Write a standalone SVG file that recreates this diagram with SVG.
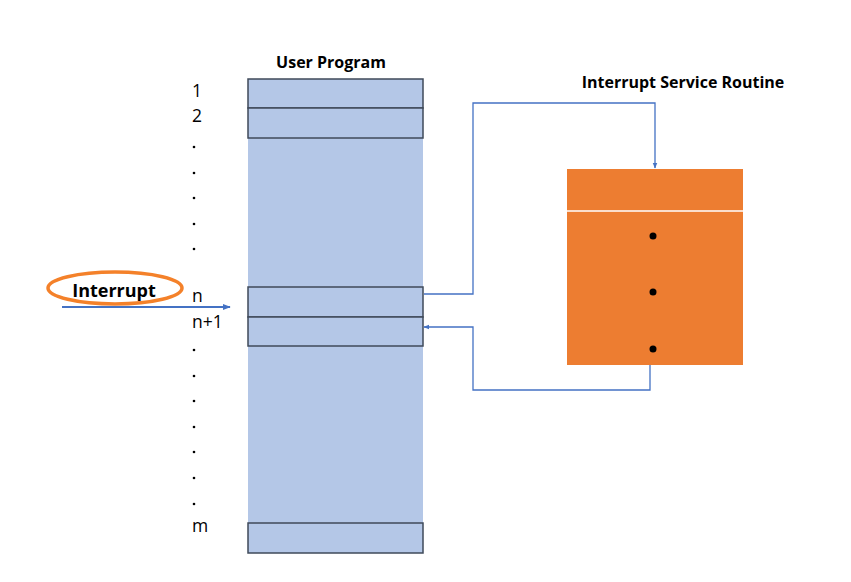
<svg xmlns="http://www.w3.org/2000/svg" width="851" height="582" viewBox="0 0 851 582">
<defs>
<style>
.t{font-family:"Open Sans","Liberation Sans",sans-serif;fill:#000}
.b{font-weight:bold;font-size:16px}
.n{font-size:17.5px}
.row{fill:#b4c7e7;stroke:#3f4a5a;stroke-width:1.5}
.c{fill:none;stroke:#4472c4;stroke-width:1.3}
.d{fill:#000}
</style>
<marker id="ah" viewBox="0 0 10 10" refX="9" refY="5" markerWidth="6" markerHeight="6" orient="auto" markerUnits="userSpaceOnUse">
<path d="M0,1 L10,5 L0,9 z" fill="#4472c4"/>
</marker>
<marker id="ah2" viewBox="0 0 10 10" refX="9" refY="5" markerWidth="8" markerHeight="8" orient="auto" markerUnits="userSpaceOnUse">
<path d="M0,1 L10,5 L0,9 z" fill="#4472c4"/>
</marker>
</defs>
<rect width="851" height="582" fill="#fff"/>
<g id="user-program">
<text class="t b" x="331" y="68" text-anchor="middle">User Program</text>
<rect x="248" y="79" width="175" height="474" fill="#b4c7e7"/>
<rect class="row" x="248" y="79" width="175" height="29"/>
<rect class="row" x="248" y="108" width="175" height="30"/>
<rect class="row" x="248" y="287" width="175" height="30"/>
<rect class="row" x="248" y="317" width="175" height="29"/>
<rect class="row" x="248" y="523" width="175" height="30"/>
</g>
<g id="labels">
<text class="t n" x="192" y="97">1</text>
<text class="t n" x="192" y="122">2</text>
<text class="t n" x="192" y="302">n</text>
<text class="t n" x="192" y="328">n+1</text>
<text class="t n" x="192" y="532">m</text>
<g class="d">
<circle cx="194" cy="147" r="1.3"/><circle cx="194" cy="173" r="1.3"/><circle cx="194" cy="198" r="1.3"/><circle cx="194" cy="224" r="1.3"/><circle cx="194" cy="249" r="1.3"/>
<circle cx="194" cy="350" r="1.3"/><circle cx="194" cy="376" r="1.3"/><circle cx="194" cy="401" r="1.3"/><circle cx="194" cy="427" r="1.3"/><circle cx="194" cy="452" r="1.3"/><circle cx="194" cy="478" r="1.3"/><circle cx="194" cy="504" r="1.3"/>
</g>
</g>
<g id="interrupt">
<ellipse cx="115" cy="288" rx="67" ry="16" fill="none" stroke="#f4812a" stroke-width="3.5"/>
<text class="t" x="114" y="297" text-anchor="middle" font-size="18" font-weight="bold">Interrupt</text>
</g>
<g id="isr">
<text class="t b" x="683" y="88" text-anchor="middle">Interrupt Service Routine</text>
<rect x="567" y="169" width="176" height="196" fill="#ed7d31"/>
<line x1="567" y1="211" x2="743" y2="211" stroke="#fff" stroke-width="1.5"/>
<circle cx="653" cy="236" r="3.5" fill="#000"/>
<circle cx="653" cy="292" r="3.5" fill="#000"/>
<circle cx="653" cy="349" r="3.5" fill="#000"/>
</g>
<g id="connectors">
<line x1="62" y1="307" x2="230" y2="307" stroke="#4472c4" stroke-width="2.2" marker-end="url(#ah2)"/>
<polyline class="c" points="424,294 473,294 473,103 655,103 655,168" marker-end="url(#ah)"/>
<polyline class="c" points="650,365 650,390 473,390 473,327 424,327" marker-end="url(#ah)"/>
</g>
</svg>
